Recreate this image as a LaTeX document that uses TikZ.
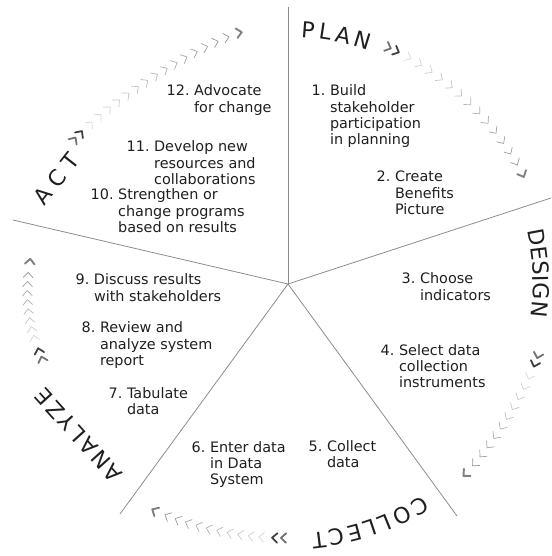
\documentclass[tikz,border=0pt]{standalone}
\usepackage{fontspec}
\setmainfont{DejaVu Sans}
\usetikzlibrary{decorations.text}

\newcommand\bodyfont{\fontsize{14.4}{16.2}\selectfont}
\newcommand\titlefont{\fontsize{22}{26}\selectfont}
\newcommand\stage[2]{#1~\begin{tabular}[t]{@{}l@{}}#2\end{tabular}}

% one chevron of a run, pointing clockwise
\newcommand\chev[3]{%
  \pgfmathsetmacro\apos{#1}%
  \pgfmathsetmacro\tpos{(\aS-\apos)/(\aS-\aE)}%
  \pgfmathsetmacro\rpos{\rS+(\rE-\rS)*\tpos-\rDip*sin(180*\tpos)}%
  \draw[chev, draw=#2, line width=#3, shift={(\apos:\rpos)}, rotate=\apos-90]
    (-2.6,4.8) -- (2.6,0) -- (-2.6,-4.8);}

\tikzset{
  spoke/.style={draw=black!45, line width=0.8pt},
  stagetext/.style={anchor=base west, inner sep=0pt, font=\bodyfont, text=black!88},
  chev/.style={line cap=round, line join=round},
  phase/.style={decorate, decoration={text along path, text align={fit to path}, text color=black!88}},
}

\begin{document}
\begin{tikzpicture}[x=1pt, y=1pt]
  \useasboundingbox (-288,-272) rectangle (263,284);

  \coordinate (hub) at (0,0);
  \coordinate (actplan) at (0,277);
  \coordinate (plandesign) at (263,86);
  \coordinate (designcollect) at (169,-232);
  \coordinate (collectanalyze) at (-168,-230);
  \coordinate (analyzeact) at (-275,64);

  \draw[spoke] (hub) -- (actplan);
  \draw[spoke] (hub) -- (plandesign);
  \draw[spoke] (hub) -- (designcollect);
  \draw[spoke] (hub) -- (collectanalyze);
  \draw[spoke] (hub) -- (analyzeact);

  % phase names round the rim
  \path[phase, decoration={text={|\titlefont|PLAN}}] (87:247) arc[start angle=87, end angle=71, radius=247pt];
  \path[phase, decoration={text={|\titlefont|DESIGN}}] (12.6:245) arc[start angle=12.6, end angle=-7.6, radius=245pt];
  \path[phase, decoration={text={|\titlefont|COLLECT}}] (-57.6:250) arc[start angle=-57.6, end angle=-84.6, radius=250pt];
  \path[phase, decoration={text={|\titlefont|ANALYZE}}] (-164,-189.5) -- (-242.5,-102.5);
  \path[phase, decoration={text={|\titlefont|ACT}}] (-243.5,77) -- (-207,123.5);

  % chevron runs: start/end angle, light chevrons, start/end radius, dip
  \foreach \aS/\aE/\nL/\rS/\rE/\rDip in {146/101/15/258/256/10, 67/25/13/257/259/2,
      -16/-47/10/260/260/3, -91/-120.5/10/254/263/2, 197/175/8/257/259/-3}{
    \chev{\aS}{black!55}{1.8pt}
    \chev{\aS-2}{black!75}{1.8pt}
    \pgfmathsetmacro\gap{(\aS-\aE-8)/(\nL-1)}
    \foreach \k in {1,...,\nL}{
      \pgfmathtruncatemacro\tone{16+26*(\k-1)/(\nL-1)}
      \chev{\aS-5-(\k-1)*\gap}{black!\tone}{0.7pt}
    }
    \chev{\aE}{black!50}{1.9pt}
  }

  \node[stagetext] (s1) at (23.5,188) {\stage{1.}{Build\\stakeholder\\participation\\in planning}};
  \node[stagetext] (s2) at (88.5,102) {\stage{2.}{Create\\Benefits\\Picture}};
  \node[stagetext] (s3) at (113.5,0) {\stage{3.}{Choose\\indicators}};
  \node[stagetext] (s4) at (92.5,-71) {\stage{4.}{Select data\\collection\\instruments}};
  \node[stagetext] (s5) at (20.5,-167.5) {\stage{5.}{Collect\\data}};
  \node[stagetext] (s6) at (-96.5,-168) {\stage{6.}{Enter data\\in Data\\System}};
  \node[stagetext] (s7) at (-179.5,-114) {\stage{7.}{Tabulate\\data}};
  \node[stagetext] (s8) at (-206.5,-49) {\stage{8.}{Review and\\analyze system\\report}};
  \node[stagetext] (s9) at (-212.5,-1) {\stage{9.}{Discuss results\\with stakeholders}};
  \node[stagetext] (s10) at (-197.5,84) {\stage{10.}{Strengthen or\\change programs\\based on results}};
  \node[stagetext] (s11) at (-161.5,132) {\stage{11.}{Develop new\\resources and\\collaborations}};
  \node[stagetext] (s12) at (-121.5,188) {\stage{12.}{Advocate\\for change}};
\end{tikzpicture}
\end{document}
